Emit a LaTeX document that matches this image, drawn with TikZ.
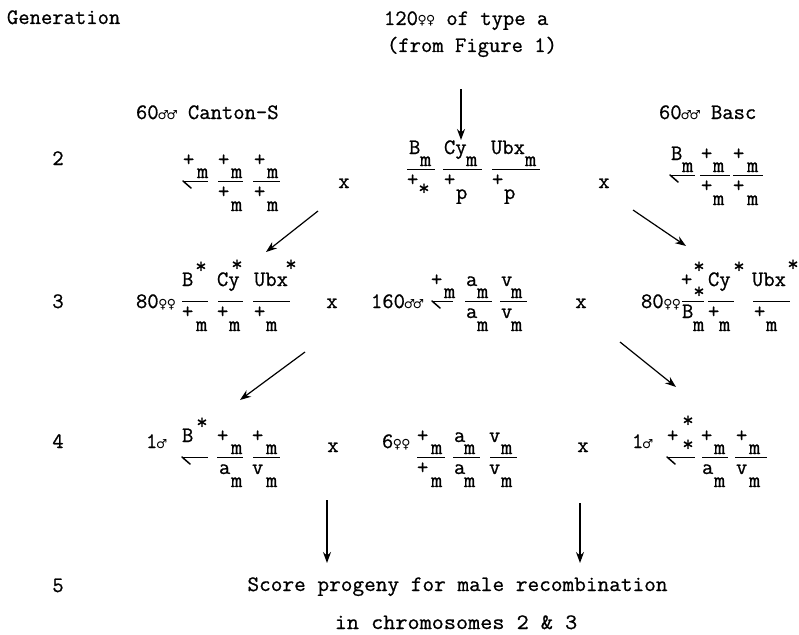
\documentclass[tikz,border=0pt]{standalone}
\usepackage{fontspec}
\usepackage{graphicx}
\newfontfamily\symfont{DejaVu Sans}
\newfontfamily\twfont{Latin Modern Mono}[FakeBold=0.8]
\usetikzlibrary{arrows.meta}
\newcommand\fem{\makebox[8.5pt]{\symfont\fontsize{12.5}{12.5}\selectfont ♀}}
\newcommand\mal{\makebox[9pt]{\symfont\fontsize{12.5}{12.5}\selectfont ♂}}
% fraction helpers: name, x, line-y, text
\newcommand\Top[4]{\node[txt] (#1) at (#2,#3-15) {#4};}
\newcommand\Sub[4]{\node[txt] (#1) at (#2,#3-3) {#4};}
\newcommand\Bot[4]{\node[txt] (#1) at (#2,#3+17) {#4};}
\newcommand\Bsub[4]{\node[txt] (#1) at (#2,#3+30) {#4};}
\newcommand\Star[3]{\node[txt,anchor=base] (#1) at (#2,#3+9) {*};}
\newcommand\Ln[4]{\coordinate (#1a) at (#2,#4); \coordinate (#1b) at (#3,#4); \draw[fline] (#1a) -- (#1b);}
\newcommand\Yc[4]{\coordinate (#1a) at (#2,#4); \coordinate (#1b) at (#3,#4); \coordinate (#1h) at (#2+8,#4+7); \draw[fline] (#1a) -- (#1b); \draw[hook] (#1a) -- (#1h);}
\newcommand\Cross[3]{\node[txt,anchor=base] (#1) at (#2,#3) {x};}
\begin{document}
\begin{tikzpicture}[x=1pt,y=-1pt,
  txt/.style={font=\twfont\fontsize{22}{26}\selectfont, inner sep=0pt, outer sep=0pt, anchor=base west},
  fline/.style={line width=0.9pt},
  hook/.style={line width=1.5pt, line cap=round},
  arr/.style={line width=1.2pt, -{Stealth[length=11pt,width=8pt]}}]
\useasboundingbox (0,0) rectangle (799,634);
% headers
\node[txt] (gen) at (7,24) {Generation};
\node[txt] (src1) at (384,25) {120\fem\fem{} of type a};
\node[txt] (src2) at (387,52) {(from Figure 1)};
\node[txt] (cant) at (136,119) {60\mal\mal{} Canton-S};
\node[txt] (basc) at (659,119) {60\mal\mal{} Basc};
% generation numbers
\node[txt,anchor=base] (n2) at (58,165) {2};
\node[txt,anchor=base] (n3) at (58,308) {3};
\node[txt,anchor=base] (n4) at (58,448) {4};
\node[txt,anchor=base] (n5) at (58,592) {5};
% ---------- generation 2 ----------
\Yc{g2l1}{183}{208}{181}
\Top{g2l1t}{183}{181}{+}\Sub{g2l1s}{197}{181}{m}
\Ln{g2l2}{218}{243}{181}
\Top{g2l2t}{218}{181}{+}\Sub{g2l2s}{231}{181}{m}\Bot{g2l2b}{218}{181}{+}\Bsub{g2l2u}{231}{181}{m}
\Ln{g2l3}{253}{280}{181}
\Top{g2l3t}{254}{181}{+}\Sub{g2l3s}{267}{181}{m}\Bot{g2l3b}{254}{181}{+}\Bsub{g2l3u}{267}{181}{m}
\Cross{x2a}{344}{188}
\Ln{g2c1}{407}{435}{169}
\Top{g2c1t}{409}{169}{B}\Sub{g2c1s}{420}{169}{m}\Bot{g2c1b}{407}{169}{+}\Star{g2c1u}{424}{186}
\Ln{g2c2}{443}{482}{169}
\Top{g2c2t}{444}{169}{Cy}\Sub{g2c2s}{466}{169}{m}\Bot{g2c2b}{444}{169}{+}\Bsub{g2c2u}{456}{169}{p}
\Ln{g2c3}{492}{540}{169}
\Top{g2c3t}{491}{169}{Ubx}\Sub{g2c3s}{525}{169}{m}\Bot{g2c3b}{492}{169}{+}\Bsub{g2c3u}{504}{169}{p}
\Cross{x2b}{604}{188}
\Yc{g2r1}{670}{695}{175}
\Top{g2r1t}{671}{175}{B}\Sub{g2r1s}{682}{175}{m}
\Ln{g2r2}{700}{730}{175}
\Top{g2r2t}{701}{175}{+}\Sub{g2r2s}{713}{175}{m}\Bot{g2r2b}{701}{175}{+}\Bsub{g2r2u}{713}{175}{m}
\Ln{g2r3}{733}{763}{175}
\Top{g2r3t}{733}{175}{+}\Sub{g2r3s}{747}{175}{m}\Bot{g2r3b}{733}{175}{+}\Bsub{g2r3u}{747}{175}{m}
% ---------- generation 3 ----------
\node[txt] (g3lN) at (136,308) {80\fem\fem};
\Ln{g3l1}{182}{208}{301}
\Top{g3l1t}{182}{301}{B}\Star{g3l1x}{201}{264}\Bot{g3l1b}{182}{301}{+}\Bsub{g3l1u}{196}{301}{m}
\Ln{g3l2}{218}{243}{301}
\Top{g3l2t}{217}{301}{Cy}\Star{g3l2x}{237}{262}\Bot{g3l2b}{217}{301}{+}\Bsub{g3l2u}{229}{301}{m}
\Ln{g3l3}{253}{290}{301}
\Top{g3l3t}{254}{301}{Ubx}\Star{g3l3x}{291}{262}\Bot{g3l3b}{254}{301}{+}\Bsub{g3l3u}{266}{301}{m}
\Cross{x3a}{332}{308}
\node[txt] (g3cN) at (371,308) {160\mal\mal};
\Yc{g3c1}{432}{453}{301}
\Top{g3c1t}{431}{301}{+}\Sub{g3c1s}{444}{301}{m}
\Ln{g3c2}{465}{492}{301}
\Top{g3c2t}{466}{301}{a}\Sub{g3c2s}{477}{301}{m}\Bot{g3c2b}{466}{301}{a}\Bsub{g3c2u}{477}{301}{m}
\Ln{g3c3}{500}{527}{301}
\Top{g3c3t}{501}{301}{v}\Sub{g3c3s}{511}{301}{m}\Bot{g3c3b}{501}{301}{v}\Bsub{g3c3u}{511}{301}{m}
\Cross{x3b}{581}{308}
\node[txt] (g3rN) at (641,308) {80\fem\fem};
\Ln{g3r1}{682}{704}{301}
\Top{g3r1t}{681}{301}{+}\Star{g3r1y}{699}{289}\Star{g3r1x}{699}{264}\Bot{g3r1b}{682}{301}{B}\Bsub{g3r1u}{693}{301}{m}
\Ln{g3r2}{708}{734}{301}
\Top{g3r2t}{708}{301}{Cy}\Star{g3r2x}{739}{264}\Bot{g3r2b}{708}{301}{+}\Bsub{g3r2u}{719}{301}{m}
\Ln{g3r3}{753}{790}{301}
\Top{g3r3t}{752}{301}{Ubx}\Star{g3r3x}{793}{262}\Bot{g3r3b}{754}{301}{+}\Bsub{g3r3u}{766}{301}{m}
% ---------- generation 4 ----------
\node[txt] (g4lN) at (146,448) {1\mal};
\Yc{g4l1}{182}{208}{457}
\Top{g4l1t}{182}{457}{B}\Star{g4l1x}{202}{420}
\Ln{g4l2}{217}{243}{457}
\Top{g4l2t}{217}{457}{+}\Sub{g4l2s}{231}{457}{m}\Bot{g4l2b}{219}{457}{a}\Bsub{g4l2u}{231}{457}{m}
\Ln{g4l3}{253}{280}{457}
\Top{g4l3t}{252}{457}{+}\Sub{g4l3s}{266}{457}{m}\Bot{g4l3b}{252}{457}{v}\Bsub{g4l3u}{266}{457}{m}
\Cross{x4a}{333}{452}
\node[txt] (g4cN) at (382,448) {6\fem\fem};
\Ln{g4c1}{417}{445}{457}
\Top{g4c1t}{417}{457}{+}\Sub{g4c1s}{431}{457}{m}\Bot{g4c1b}{417}{457}{+}\Bsub{g4c1u}{431}{457}{m}
\Ln{g4c2}{453}{480}{457}
\Top{g4c2t}{454}{457}{a}\Sub{g4c2s}{464}{457}{m}\Bot{g4c2b}{454}{457}{a}\Bsub{g4c2u}{464}{457}{m}
\Ln{g4c3}{490}{517}{457}
\Top{g4c3t}{489}{457}{v}\Sub{g4c3s}{501}{457}{m}\Bot{g4c3b}{489}{457}{v}\Bsub{g4c3u}{501}{457}{m}
\Cross{x4b}{583}{452}
\node[txt] (g4rN) at (632,448) {1\mal};
\Yc{g4r1}{667}{695}{457}
\Top{g4r1t}{667}{457}{+}\Star{g4r1x}{688}{418}\Star{g4r1y}{688}{442}
\Ln{g4r2}{702}{728}{457}
\Top{g4r2t}{701}{457}{+}\Sub{g4r2s}{714}{457}{m}\Bot{g4r2b}{702}{457}{a}\Bsub{g4r2u}{714}{457}{m}
\Ln{g4r3}{735}{767}{457}
\Top{g4r3t}{736}{457}{+}\Sub{g4r3s}{749}{457}{m}\Bot{g4r3b}{736}{457}{v}\Bsub{g4r3u}{749}{457}{m}
% ---------- generation 5 ----------
\node[txt,anchor=base] (score1) at (457.5,591) {\scalebox{1.03}[1]{Score progeny for male recombination}};
\node[txt,anchor=base] (score2) at (456,629) {\scalebox{1.07}[1]{in chromosomes 2 \& 3}};
% ---------- arrows ----------
\coordinate (a0s) at (461,89);  \coordinate (a0e) at (461,140);
\coordinate (a1s) at (318,211); \coordinate (a1e) at (266,252);
\coordinate (a2s) at (633,210); \coordinate (a2e) at (686,246);
\coordinate (a3s) at (305,352); \coordinate (a3e) at (240,400);
\coordinate (a4s) at (620,342); \coordinate (a4e) at (676,387);
\coordinate (a5s) at (327,500); \coordinate (a5e) at (327,563);
\coordinate (a6s) at (580,503); \coordinate (a6e) at (580,563);
\foreach \i in {0,...,6} {\draw[arr] (a\i s) -- (a\i e);}
\end{tikzpicture}
\end{document}
